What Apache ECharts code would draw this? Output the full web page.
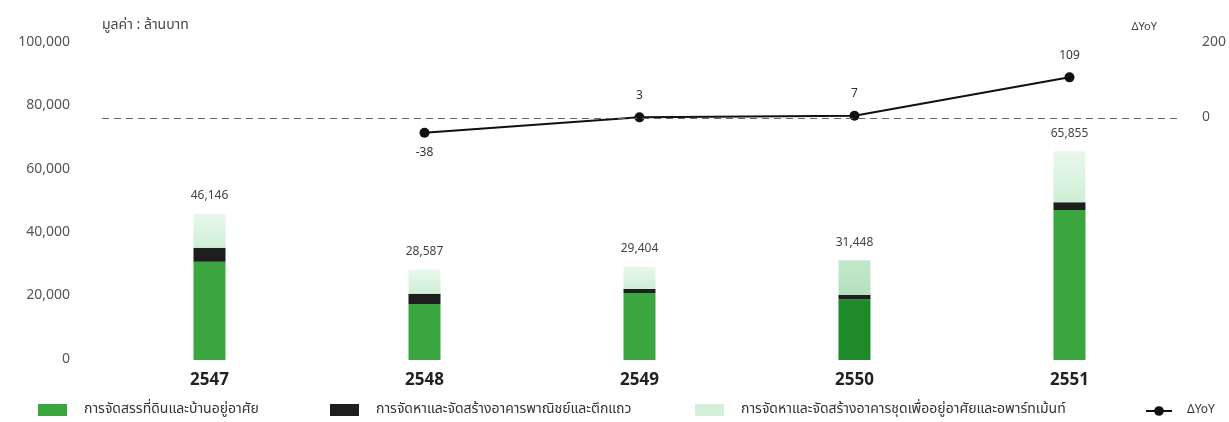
<!DOCTYPE html>
<html><head><meta charset="utf-8">
<script src="https://cdn.jsdelivr.net/npm/echarts@6/dist/echarts.min.js"></script>
<style>html,body{margin:0;padding:0;background:#fff}#c{width:1229px;height:422px}</style>
</head><body><div id="c"></div>
<script>
const categories = ['2547','2548','2549','2550','2551'];
const landHousing = [31000, 17700, 21100, 19200, 47300];
const commercial = [4400, 3200, 1300, 1300, 2500];
const condo = [10746, 7687, 7004, 10948, 16055];
const totals = [46146, 28587, 29404, 31448, 65855];
const yoy = [null, -38, 3, 7, 109];
const seriesNames = ['การจัดสรรที่ดินและบ้านอยู่อาศัย','การจัดหาและจัดสร้างอาคารพาณิชย์และตึกแถว','การจัดหาและจัดสร้างอาคารชุดเพื่ออยู่อาศัยและอพาร์ทเม้นท์','ΔYoY'];

const FONT = '"Noto Sans Thai","Noto Sans","DejaVu Sans",sans-serif';
const chart = echarts.init(document.getElementById('c'));
const greenColor = '#3ba640';
const condoGrad = new echarts.graphic.LinearGradient(0,0,0,1,[{offset:0,color:'rgba(214,242,220,0.55)'},{offset:1,color:'#cdeed4'}]);
const condoGrad2 = new echarts.graphic.LinearGradient(0,0,0,1,[{offset:0,color:'#c3e8cb'},{offset:1,color:'#b4e0be'}]);

function legendFor(i, left, icon, color){
  return {data:[{name:seriesNames[i], icon: icon, itemStyle: color?{color:color}:undefined}], left:left, bottom:0, itemWidth:29, itemHeight:12,
    textStyle:{fontFamily:FONT,fontSize:14,color:'#333',padding:[0,0,0,12]}};
}

chart.setOption({
  animation:false,
  textStyle:{fontFamily:FONT},
  legend:[legendFor(0,33,'rect'),legendFor(1,325,'rect'),legendFor(2,690,'rect','#d3efd9'),
    {data:[{name:seriesNames[3]}], left:1140, bottom:0, itemWidth:26, itemHeight:12,
     textStyle:{fontFamily:FONT,fontSize:12,color:'#333',padding:[0,0,0,10]}}],
  grid:{left:102,right:45,top:43,bottom:62},
  xAxis:{type:'category',data:categories,axisLine:{show:false},axisTick:{show:false},
    axisLabel:{fontSize:17,fontWeight:'bold',color:'#222',margin:13,fontFamily:FONT}},
  yAxis:[
    {type:'value',min:0,max:100000,interval:20000,splitLine:{show:false},
     axisLine:{show:false},axisTick:{show:false},
     axisLabel:{fontSize:14,color:'#555',margin:32,formatter:v=>v.toLocaleString('en-US')},
     name:'มูลค่า : ล้านบาท',nameLocation:'end',nameGap:10,
     nameTextStyle:{fontSize:14,color:'#444',align:'left',fontFamily:FONT,padding:[0,0,0,0]}},
    {type:'value',min:-640,max:200,splitLine:{show:false},axisLine:{show:false},axisTick:{show:false},
     axisLabel:{fontSize:14,color:'#555',margin:25,customValues:[0,200]},
     name:'ΔYoY',nameLocation:'end',nameGap:10,
     nameTextStyle:{fontSize:11,color:'#444',align:'right',padding:[0,20,0,0]}}
  ],
  series:[
    {name:seriesNames[0],type:'bar',stack:'a',barWidth:32,
     data:landHousing.map((v,i)=>i===3?{value:v,itemStyle:{color:'#1f8a2a'}}:v),
     itemStyle:{color:greenColor}},
    {name:seriesNames[1],type:'bar',stack:'a',barWidth:32,data:commercial,itemStyle:{color:'#1c1f1d'}},
    {name:seriesNames[2],type:'bar',stack:'a',barWidth:32,
     data:condo.map((v,i)=>i===3?{value:v,itemStyle:{color:condoGrad2}}:v),
     itemStyle:{color:condoGrad},
     label:{show:true,position:'top',distance:11,fontSize:12,color:'#444',
       formatter:p=>totals[p.dataIndex].toLocaleString('en-US')}},
    {name:seriesNames[3],type:'line',yAxisIndex:1,data:yoy.map(v=>v!==null&&v<0?{value:v,label:{position:'bottom',distance:10}}:v),
     symbol:'circle',symbolSize:10,lineStyle:{color:'#111',width:2},itemStyle:{color:'#111'},
     label:{show:true,position:'top',distance:10,fontSize:12,color:'#333'},
     markLine:{silent:true,symbol:'none',label:{show:false},
       lineStyle:{color:'#666',type:[7,5],width:1},data:[{yAxis:0}]}}
  ]
});
</script></body></html>
